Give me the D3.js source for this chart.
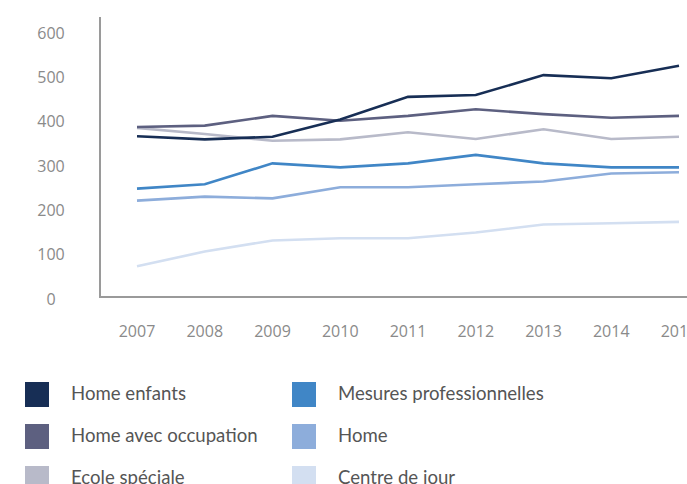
<!DOCTYPE html>
<html>
<head>
<meta charset="utf-8">
<script src="https://cdn.jsdelivr.net/npm/d3@7"></script>
<style>
  body { margin: 0; background: #fff; }
  svg { display: block; }
</style>
</head>
<body>
<div id="chart"></div>
<script>
const width = 687, height = 484;

// data
const years = [2007, 2008, 2009, 2010, 2011, 2012, 2013, 2014, 2015];
const yTicks = [0, 100, 200, 300, 400, 500, 600];
const seriesNames = ["Home enfants", "Home avec occupation", "Ecole spéciale",
                     "Mesures professionnelles", "Home", "Centre de jour"];
const seriesColors = ["#172e55", "#5d6080", "#b8bac9", "#4086c6", "#8daddb", "#d3dff1"];
const homeEnfants = [367, 360, 366, 405, 456, 460, 505, 498, 526];
const homeAvecOccupation = [388, 391, 413, 402, 413, 428, 417, 409, 413];
const ecoleSpeciale = [386, 372, 357, 360, 376, 361, 383, 361, 366];
const mesuresPro = [249, 259, 306, 297, 306, 325, 306, 297, 297];
const home = [222, 231, 227, 252, 252, 259, 265, 283, 286];
const centreDeJour = [74, 107, 132, 137, 137, 150, 168, 171, 174];
const seriesValues = [homeEnfants, homeAvecOccupation, ecoleSpeciale, mesuresPro, home, centreDeJour];

const svg = d3.select("#chart")
    .append("svg")
    .attr("width", width)
    .attr("height", height);

let x = d3.scalePoint()
    .domain(years)
    .range([137, 679]);

let y = d3.scaleLinear()
    .domain([0, 600])
    .range([299, 33]);

// y tick labels (centered, no tick marks)
svg.append("g")
    .selectAll("text")
    .data(yTicks)
    .enter()
    .append("text")
    .attr("x", 51)
    .attr("y", d => y(d))
    .attr("dy", "0.36em")
    .style("text-anchor", "middle")
    .style("font-family", "'Open Sans', sans-serif")
    .style("font-size", "16px")
    .style("fill", "#8a8a8a")
    .text(d => d);

// x tick labels
svg.append("g")
    .selectAll("text")
    .data(years)
    .enter()
    .append("text")
    .attr("x", d => x(d))
    .attr("y", 337)
    .style("text-anchor", "middle")
    .style("font-family", "'Open Sans', sans-serif")
    .style("font-size", "16px")
    .style("fill", "#8a8a8a")
    .text(d => d);

// axis lines
svg.append("line")
    .attr("x1", 100).attr("x2", 100)
    .attr("y1", 17).attr("y2", 297)
    .attr("stroke", "#9a9a9a").attr("stroke-width", 2);
svg.append("line")
    .attr("x1", 99).attr("x2", width)
    .attr("y1", 297).attr("y2", 297)
    .attr("stroke", "#9a9a9a").attr("stroke-width", 2);

let line = d3.line()
    .x((d, i) => x(years[i]))
    .y(d => y(d));

// draw lighter ones first so dark lines sit on top
let order = [5, 4, 3, 2, 1, 0];
svg.append("g")
    .selectAll("path")
    .data(order)
    .enter()
    .append("path")
    .attr("d", i => line(seriesValues[i]))
    .attr("fill", "none")
    .attr("stroke", i => seriesColors[i])
    .attr("stroke-width", 2.6)
    .attr("stroke-linejoin", "miter");

// legend, 2 columns x 3 rows
let legend = svg.append("g")
    .selectAll("g")
    .data(seriesNames)
    .enter()
    .append("g")
    .attr("transform", (d, i) => `translate(${i < 3 ? 25 : 292}, ${382 + (i % 3) * 42})`);

legend.append("rect")
    .attr("width", 24)
    .attr("height", 25)
    .attr("fill", (d, i) => seriesColors[i]);

legend.append("text")
    .attr("x", 46)
    .attr("y", 18)
    .style("font-family", "Lato, sans-serif")
    .style("font-size", "18.6px")
    .style("fill", "#555")
    .text(d => d);
</script>
</body>
</html>
